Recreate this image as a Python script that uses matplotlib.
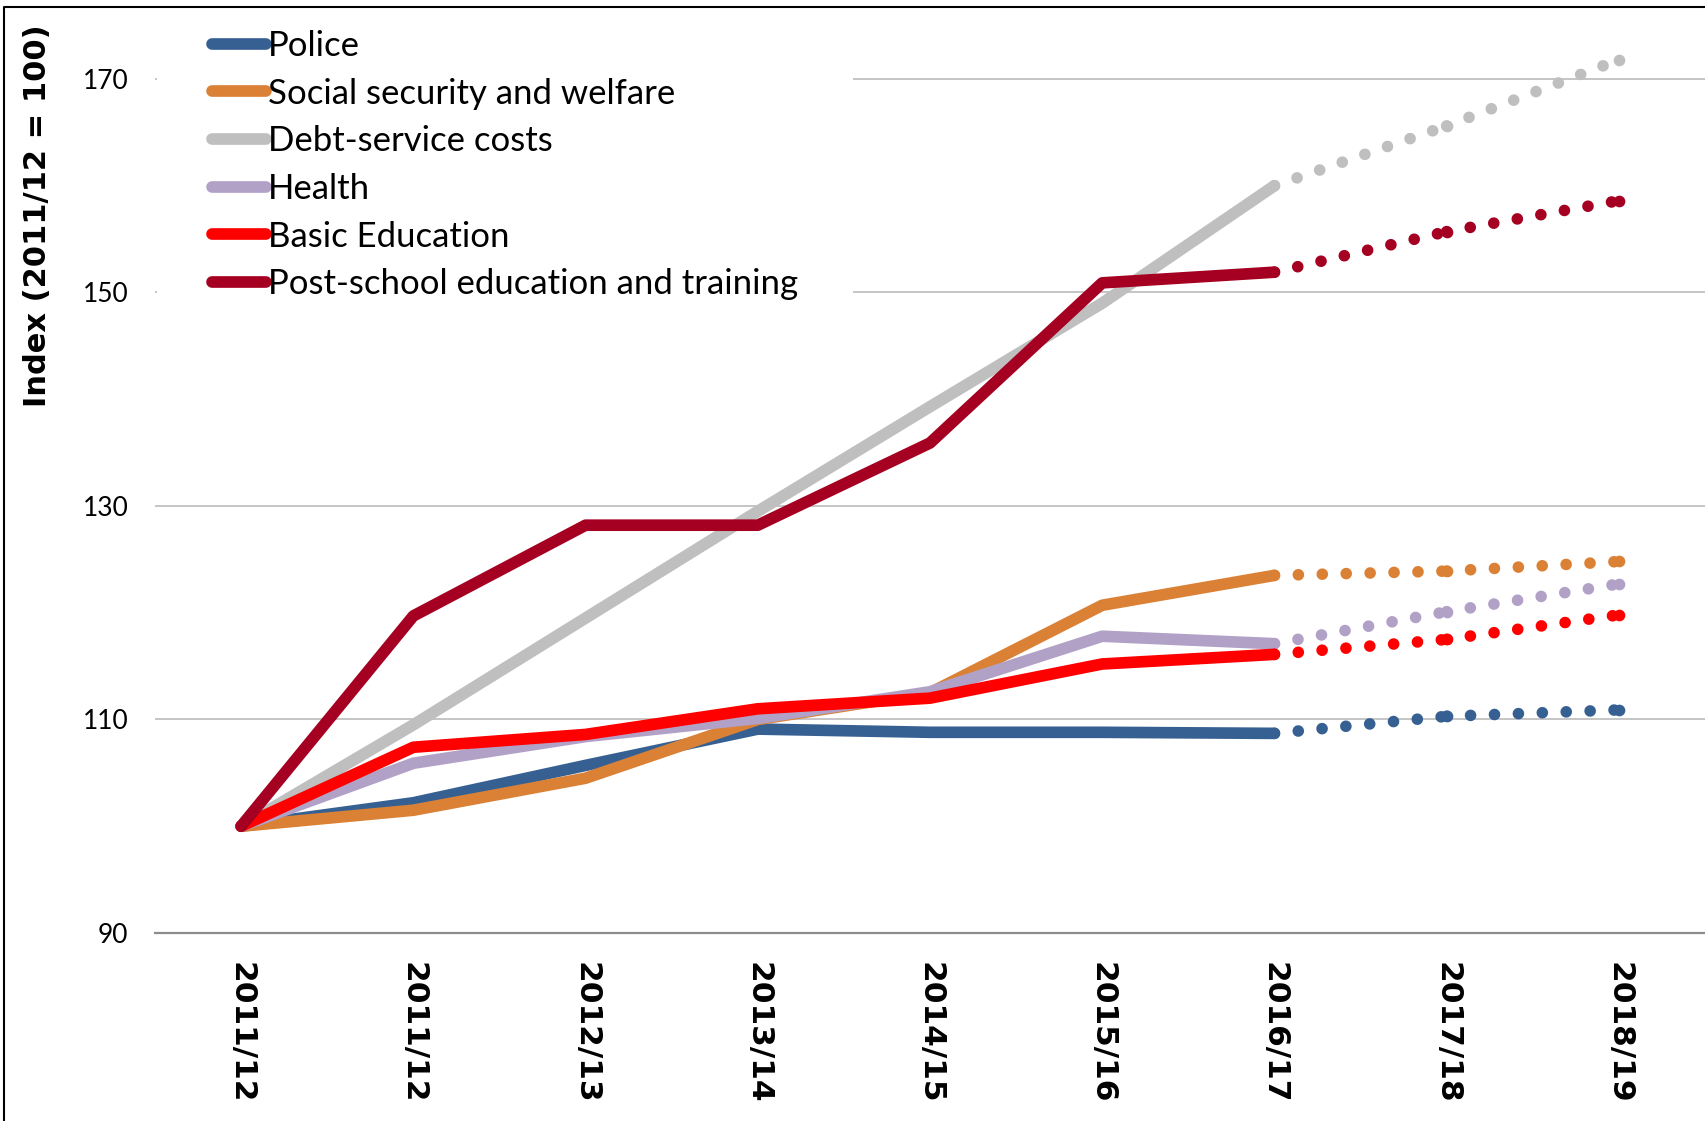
import matplotlib
matplotlib.use("Agg")
import matplotlib.pyplot as plt
from matplotlib.lines import Line2D

years = ['2011/12', '2011/12', '2012/13', '2013/14', '2014/15',
         '2015/16', '2016/17', '2017/18', '2018/19']

police = [100, 102.2, 105.7, 109.1, 108.8, 108.8, 108.7, 110.3, 110.9]
social = [100, 101.5, 104.5, 110.0, 112.5, 120.7, 123.5, 123.9, 124.8]
debt = [100, 109.5, 119.5, 129.5, 139.3, 149.0, 160.0, 165.6, 171.8]
health = [100, 105.9, 108.4, 110.1, 112.6, 117.8, 117.1, 120.1, 122.7]
basic_ed = [100, 107.4, 108.6, 111.0, 112.0, 115.2, 116.1, 117.5, 119.8]
post_school = [100, 119.7, 128.2, 128.2, 135.9, 150.9, 151.9, 155.7, 158.6]

names = ['Police', 'Social security and welfare', 'Debt-service costs',
         'Health', 'Basic Education', 'Post-school education and training']
colors = ['#376092', '#DB8136', '#BFBFBF', '#B2A1C7', '#FF0000', '#A50021']
series = [police, social, debt, health, basic_ed, post_school]

n_actual = 7  # solid up to 2016/17, dotted after

W, H = 1705, 1121
fig = plt.figure(figsize=(W / 100, H / 100), dpi=100)
ax = fig.add_axes([155 / W, 1 - 933 / H, 1 - 155 / W, (933 - 10) / H])

x = list(range(len(years)))
lw = 8.4
for vals, c, name in zip(series, colors, names):
    ax.plot(x[:n_actual], vals[:n_actual], color=c, lw=lw, label=name,
            solid_capstyle='round', solid_joinstyle='round')
    # projections: each segment dotted on its own, like the source chart
    for i in range(n_actual - 1, len(x) - 1):
        ax.plot(x[i:i + 2], vals[i:i + 2], color=c, lw=lw,
                linestyle=(0, (0.001, 2.05)), dash_capstyle='round')
    ax.plot(x[n_actual:], vals[n_actual:], color=c, lw=0, marker='o',
            markersize=lw, markeredgewidth=0)

ax.set_xlim(-0.5, len(years) - 0.5)
ax.set_ylim(90, 176.46)
ax.set_yticks([90, 110, 130, 150, 170])
ax.set_xticks(x)
ax.set_xticklabels(years, rotation=-90, fontsize=22.5, fontweight='bold',
                   family='DejaVu Sans')
for lab in ax.get_yticklabels():
    lab.set_family(['Lato', 'DejaVu Sans'])
    lab.set_fontsize(19)
ax.tick_params(axis='both', length=0)
ax.tick_params(axis='y', pad=19)
ax.tick_params(axis='x', pad=21)
ax.grid(axis='y', color='#C0C0C0', lw=1.3)
ax.set_axisbelow(True)
for s in ['top', 'right', 'left']:
    ax.spines[s].set_visible(False)
ax.spines['bottom'].set_color('#8C8C8C')
ax.spines['bottom'].set_linewidth(1.6)

ax.set_ylabel('Index (2011/12 = 100)', fontsize=22, fontweight='bold',
              family='DejaVu Sans', ha='center', va='center')
ax.yaxis.set_label_coords((38 - 155) / 1550, (933 - 216) / 923)

handles = [Line2D([0], [0], color=c, lw=lw, solid_capstyle='round') for c in colors]
leg = ax.legend(handles, names, loc='upper left',
                bbox_to_anchor=(0.001, 1.0385), borderaxespad=0,
                borderpad=1.6, handlelength=1.55, handletextpad=0.05,
                labelspacing=0.45, frameon=True, fancybox=False,
                facecolor='white', edgecolor='none', framealpha=1,
                prop={'family': ['Lato', 'DejaVu Sans'], 'size': 25})
leg.set_zorder(5)

# outer border (left and top edges visible)
fig.lines.append(Line2D([4 / W, 4 / W, 1], [0, 1 - 7 / H, 1 - 7 / H],
                        transform=fig.transFigure, color='black', lw=1.5))

fig.savefig('out.png', dpi=100)
